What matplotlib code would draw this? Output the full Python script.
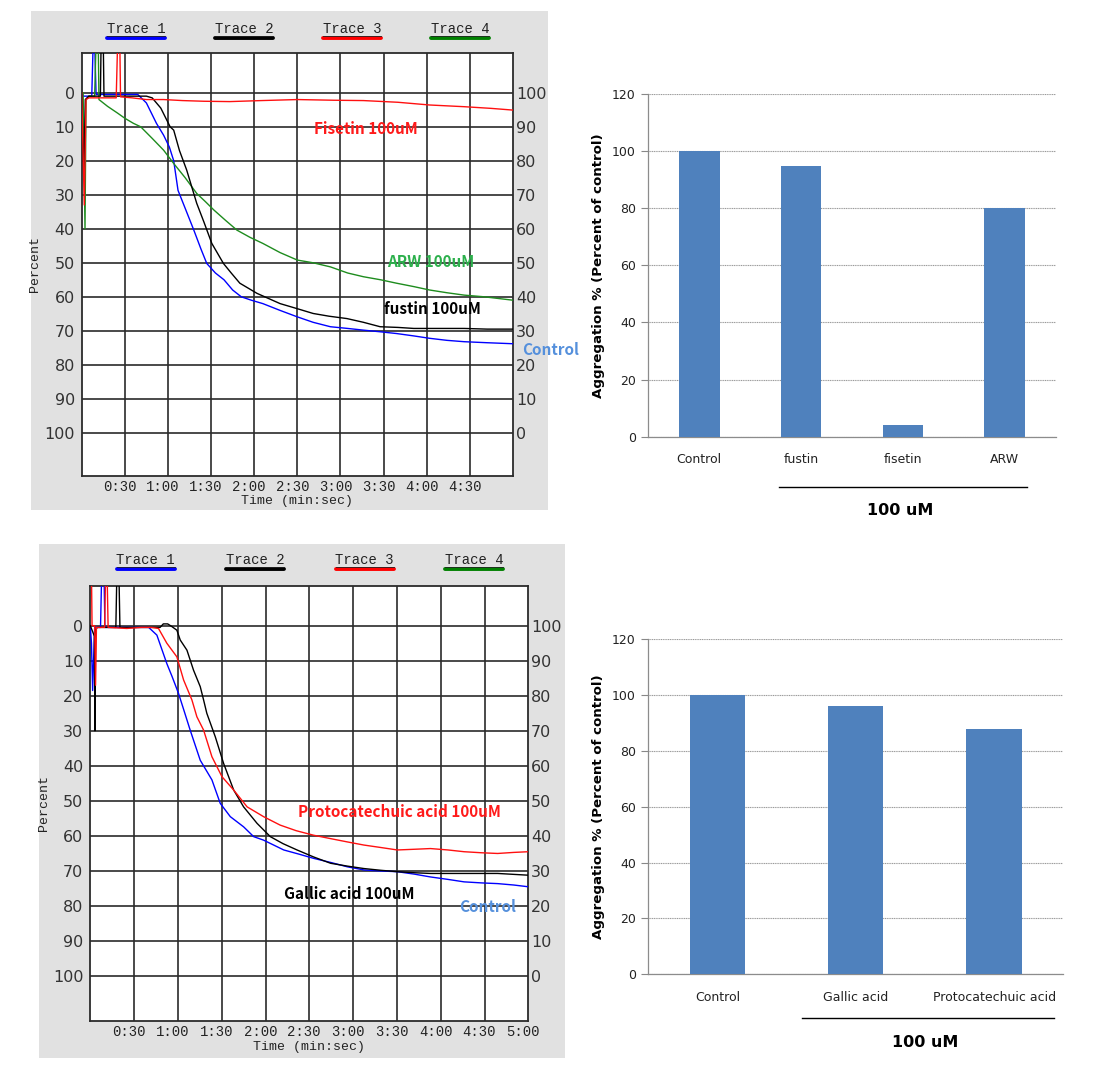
import matplotlib
matplotlib.use("Agg")
import matplotlib.pyplot as plt
from matplotlib.patches import Rectangle
from matplotlib.lines import Line2D

W, H = 1116, 1087

# ---------------- data: panel A (aggregation traces, top) ----------------
a_blue_t = [0, 1, 5, 7, 8, 9, 10, 20, 39, 45, 52, 57, 61, 64, 67, 72, 78, 83, 87, 93, 99, 105, 111,
            118, 126, 138, 150, 161, 173, 185, 196, 208, 219, 231, 242, 254, 266, 282, 300]
a_blue_v = [0, 1, 1, 1, -15, -15, 0.5, 0.5, 0.5, 3, 9, 12.5, 16, 20, 28.7, 34, 40.4, 46, 50.2, 53, 55, 58, 60,
            61, 62, 64, 65.9, 67.5, 68.8, 69.3, 69.8, 70.3, 70.8, 71.5, 72.2, 72.8, 73.2, 73.5, 73.8]

a_black_t = [0, 1.4, 2.5, 5, 13, 13.5, 15, 15.5, 30, 45, 49, 55, 61.5, 64, 68, 73, 80, 85, 90.5, 98.6, 104,
             110, 116, 122, 130, 138, 150, 161, 172, 184.5, 196, 207.6, 220, 231, 250, 266, 282, 300]
a_black_v = [0, 25, 2, 1, 1, -15, -15, 1, 1, 1, 1.5, 4.5, 10, 11, 17, 22.7, 32.5, 38, 44.3, 50.2, 53,
             56, 57.5, 59, 60.5, 62, 63.5, 64.9, 65.7, 66.4, 67.5, 68.8, 69, 69.3, 69.3, 69.3, 69.5, 69.5]

a_red_t = [0, 1.8, 3, 5, 24, 25, 26.5, 27, 35, 45, 57, 70, 85, 103, 125, 150, 175, 196, 220, 242, 266, 285, 300]
a_red_v = [0, 33, 2, 1.5, 1.5, -15, -15, 1.2, 1.5, 2, 2, 2.3, 2.5, 2.6, 2.3, 2, 2.2, 2.3, 2.8, 3.6, 4.1, 4.6, 5.1]

a_green_t = [0, 1, 2.3, 3, 5, 9, 10, 11.5, 12, 18, 25, 30, 36, 41, 49, 57, 64, 72, 80, 86, 92, 100, 108, 117,
             126, 138, 150, 161, 173, 185, 196, 208, 219, 231, 242, 254, 266, 280, 290, 300]
a_green_v = [0, 0, 40, 2, 1, 1, -15, -15, 2, 4, 6, 7.5, 9, 10, 13.4, 16.9, 20.8, 25, 29.6, 32, 34.5, 37.5, 40.4, 42.5,
             44.3, 47, 49.2, 50, 51.2, 53, 54.1, 55, 56, 57, 58, 58.8, 59.5, 60, 60.5, 61]

# ---------------- data: panel C (aggregation traces, bottom) ----------------
c_blue_t = [0, 0.8, 1.6, 2.4, 3, 7, 7.8, 9.4, 10, 20, 40, 45.6, 52.4, 56, 60.4, 64, 68.4, 75.3, 83.3, 89, 95.9,
            105, 111.9, 118.7, 132.5, 143, 153, 165, 176, 187.4, 199, 210.3, 222, 233, 245, 256, 268, 279, 290, 300]
c_blue_v = [0, 5, 18.5, 8, 0.5, 0.5, -15, -15, 0.5, 0.5, 0.5, 2.7, 10.8, 14.5, 19.3, 24, 29.8, 38.4, 44, 50.7, 54.5,
            57.4, 60.2, 61.2, 64, 65.2, 66.4, 67.6, 68.8, 69.7, 70, 70.2, 70.9, 71.7, 72.4, 73.1, 73.4, 73.6, 74, 74.5]

c_black_t = [0, 2.8, 3.2, 3.6, 5, 17.5, 18.2, 19.6, 20.3, 30, 47.8, 50, 53, 56, 59.3, 61.6, 66.2, 70.7, 75.3, 77.6,
             79.8, 85.6, 91.3, 98.2, 105, 114.2, 123.3, 132, 141.6, 153, 164.6, 176, 187.4, 199, 210.3, 222, 233,
             256, 279, 300]
c_black_v = [0, 3, 30, 1, 0.5, 0.5, -15, -15, 0.5, 0.5, 0.5, -0.5, -0.5, 0.3, 1.3, 4.1, 7, 12.7, 17.4, 21.2,
             25, 31.7, 39.3, 46.9, 51.7, 56.4, 60.2, 62.2, 64, 66, 67.8, 68.6, 69.3, 69.8, 70.2, 70.5, 70.7,
             70.7, 70.7, 71.2]

c_red_t = [0, 0.8, 1.2, 3, 3.6, 4.2, 9.8, 10.5, 11.5, 12.2, 25, 35, 42, 46.7, 52.4, 59.3, 63.9, 69.6, 73, 77.6,
           83.3, 90.2, 98.2, 107.4, 118.7, 130, 141, 153, 165, 176, 187.4, 199, 210.3, 222, 233, 245, 256, 268,
           279, 290, 300]
c_red_v = [-15, -15, 0, 0, 17, 0.5, 0.5, -15, -15, 0.5, 0.8, 0.5, 0.5, 0.8, 5, 8.9, 15.5, 21.2, 26, 29.8,
           37.4, 43.1, 46.9, 51.7, 54.5, 56.9, 58.5, 59.8, 60.8, 61.7, 62.6, 63.3, 64, 63.8, 63.6, 64, 64.5, 64.8,
           65, 64.7, 64.5]

# ---------------- data: bar charts ----------------
bar_b_labels = ["Control", "fustin", "fisetin", "ARW"]
bar_b_values = [100, 94.8, 4.1, 80.2]
bar_d_labels = ["Control", "Gallic acid", "Protocatechuic acid"]
bar_d_values = [100, 96.1, 87.9]

time_ticks = [30, 60, 90, 120, 150, 180, 210, 240, 270, 300]
time_labels = ["0:30", "1:00", "1:30", "2:00", "2:30", "3:00", "3:30", "4:00", "4:30", "5:00"]
pct_ticks = [0, 10, 20, 30, 40, 50, 60, 70, 80, 90, 100]
trace_names = ["Trace 1", "Trace 2", "Trace 3", "Trace 4"]
trace_colors = ["#0000ff", "#000000", "#ff0000", "#008000"]

fig = plt.figure(figsize=(W / 100, H / 100), dpi=100)
fig.patch.set_facecolor("white")


def fx(x):
    return x / W


def fy(y):
    return 1 - y / H


def add_ax(x0, y0, x1, y1):
    return fig.add_axes([fx(x0), fy(y1), fx(x1 - x0), (y1 - y0) / H])


MONO = "Liberation Mono"
ANNO = ["Noto Sans CJK KR", "DejaVu Sans"]
GRIDC = "#2b2b2b"
LABEL_SHIFT = 3.5  # tick labels sit slightly left of their grid line (seconds)


def trace_panel(box, plot, ylim, show_last, traces, trace_label_xy, labels, ylabelpad):
    bx0, by0, bx1, by1 = box
    fig.patches.append(Rectangle((fx(bx0), fy(by1)), fx(bx1 - bx0), (by1 - by0) / H,
                                 transform=fig.transFigure, facecolor="#e1e1e1",
                                 edgecolor="none", zorder=-10))
    ax = add_ax(*plot)
    ax.set_facecolor("white")
    ax.set_xlim(0, 300)
    ax.set_ylim(*ylim)
    for v in pct_ticks:
        ax.axhline(v, color=GRIDC, lw=1.2, zorder=1)
    for t in time_ticks[:-1]:
        ax.axvline(t, color=GRIDC, lw=1.2, zorder=1)
    for s in ax.spines.values():
        s.set_color(GRIDC)
        s.set_linewidth(1.3)
    for (tt, vv, c) in traces:
        ax.plot(tt, vv, color=c, lw=1.0, zorder=3, clip_on=True)
    ax.set_yticks(pct_ticks)
    ax.set_yticklabels([str(v) for v in pct_ticks], fontsize=11.5, color="#333333")
    n = len(time_ticks) if show_last else len(time_ticks) - 1
    ax.set_xticks([t - LABEL_SHIFT for t in time_ticks[:n]])
    ax.set_xticklabels(time_labels[:n], fontsize=10, family=MONO, color="#222222")
    ax.tick_params(length=0, pad=3)
    ax.tick_params(axis="y", pad=5)
    ax.set_xlabel("Time (min:sec)", family=MONO, fontsize=9.5, labelpad=1, color="#222222")
    ax.set_ylabel("Percent", family=MONO, fontsize=9.5, labelpad=ylabelpad, color="#222222")
    ax2 = ax.twinx()
    ax2.set_ylim(*ylim)
    ax2.set_yticks(pct_ticks)
    ax2.set_yticklabels([str(100 - v) for v in pct_ticks], fontsize=11.5, color="#333333")
    ax2.tick_params(length=0, pad=2)
    for s in ax2.spines.values():
        s.set_visible(False)
    # trace legend
    lx0, ly, dx = trace_label_xy
    for i, (nm, c) in enumerate(zip(trace_names, trace_colors)):
        cx = lx0 + i * dx
        fig.text(fx(cx), fy(ly - 1.5), nm, family=MONO, fontsize=10, ha="center", va="center", color="#222222")
        fig.add_artist(Line2D([fx(cx - 29), fx(cx + 29)], [fy(ly + 7), fy(ly + 7)], color=c, lw=2.8,
                              solid_capstyle="round"))
        fig.add_artist(Line2D([fx(cx - 29), fx(cx + 29)], [fy(ly + 5), fy(ly + 5)], color="#222222", lw=0.6))
    for (txt, t, v, c) in labels:
        ax2.text(t, v, txt, color=c, fontsize=11, fontweight="bold", family=ANNO,
                 ha="center", va="center", clip_on=False, zorder=5)
    return ax


trace_panel((31, 11, 548, 510), (81.7, 53.3, 513, 475.7), (112.6, -11.6), False,
            [(a_blue_t, a_blue_v, "#0000ff"), (a_green_t, a_green_v, "#1e8c1e"),
             (a_black_t, a_black_v, "#000000"), (a_red_t, a_red_v, "#ff1010")],
            (136, 30.7, 108),
            [("Fisetin 100uM", 198, 10.8, "#ff1a1a"), ("ARW 100uM", 243, 49.7, "#2cb04c"),
             ("fustin 100uM", 244, 63.6, "#000000"), ("Control", 326, 75.7, "#5590dc")], 2)

trace_panel((39, 544, 565, 1058), (90.3, 585.7, 528.3, 1021), (112.8, -11.4), True,
            [(c_blue_t, c_blue_v, "#0000ff"), (c_black_t, c_black_v, "#000000"),
             (c_red_t, c_red_v, "#ff1010")],
            (145.7, 561.7, 109.5),
            [("Protocatechuic acid 100uM", 212, 53.1, "#ff1a1a"), ("Gallic acid 100uM", 177.6, 76.7, "#000000"),
             ("Control", 272, 80.2, "#5590dc")], 2)


def bar_panel(plot, labels, values, line_px, conc_xy):
    ax = add_ax(*plot)
    x = list(range(len(labels)))
    ax.set_xlim(-0.5, len(labels) - 0.5)
    ax.set_ylim(0, 120)
    ax.set_yticks([0, 20, 40, 60, 80, 100, 120])
    ax.yaxis.grid(True, color="#9a9a9a", lw=0.8, ls=(0, (1, 0.6)))
    ax.set_axisbelow(True)
    ax.bar(x, values, width=0.4, color="#4f81bd", zorder=3)
    ax.set_xticks(x)
    ax.set_xticklabels(labels, fontsize=9, color="#222222")
    ax.tick_params(axis="x", length=0, pad=12)
    ax.tick_params(axis="y", length=5, color="#888888", labelsize=9, labelcolor="#222222", pad=4)
    for s in ["top", "right"]:
        ax.spines[s].set_visible(False)
    for s in ["left", "bottom"]:
        ax.spines[s].set_color("#8c8c8c")
        ax.spines[s].set_linewidth(0.9)
    ax.set_ylabel("Aggregation % (Percent of control)", fontsize=9.6, fontweight="bold", labelpad=5)
    (x0, x1, y) = line_px
    fig.add_artist(Line2D([fx(x0), fx(x1)], [fy(y), fy(y)], color="black", lw=1.0))
    fig.text(fx(conc_xy[0]), fy(conc_xy[1]), "100 uM", fontsize=11.5, fontweight="bold",
             ha="center", va="center")
    return ax


bar_panel((648.3, 94, 1055.7, 436.7), bar_b_labels, bar_b_values, (779, 1026.7, 486.7), (900, 510.7))
bar_panel((648.3, 639.3, 1063.3, 974.3), bar_d_labels, bar_d_values, (802.3, 1054, 1018.3), (925, 1042.7))

fig.savefig("out.png", dpi=100)
